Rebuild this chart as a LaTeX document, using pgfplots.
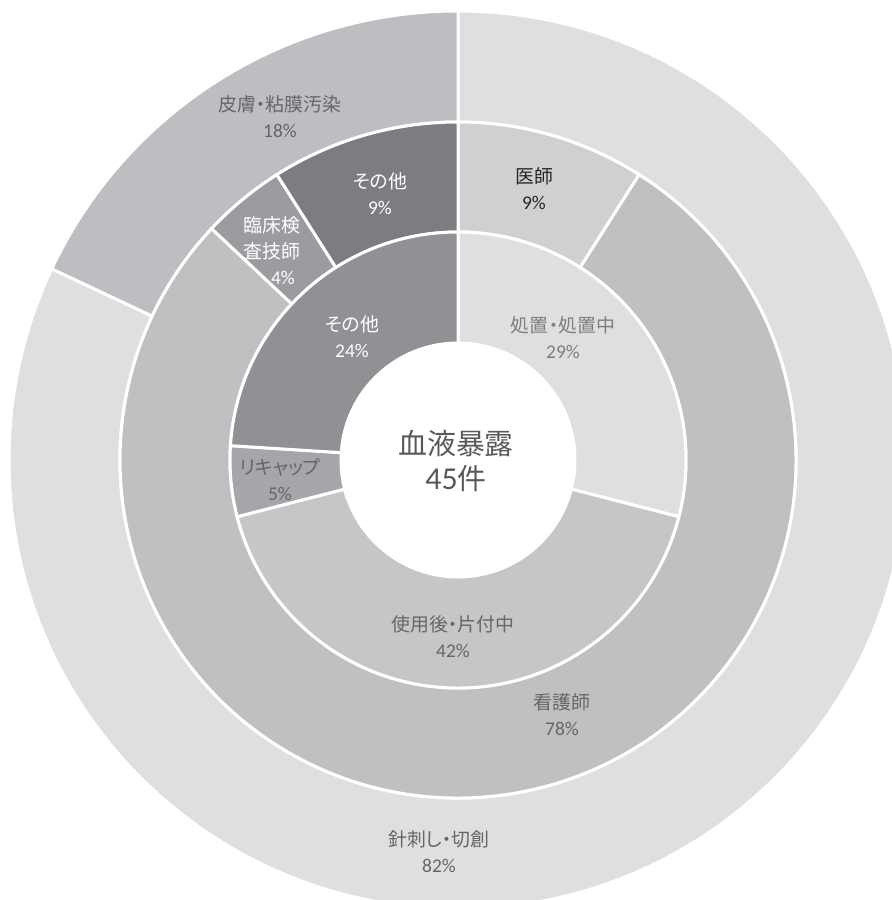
\documentclass[border=0pt]{standalone}
\usepackage{fontspec}
\setmainfont{Carlito}
\newfontfamily\jp[RawFeature=+palt]{Noto Sans CJK JP}
\usepackage{pgfplots}
\usepackage{pgfplotstable}
\pgfplotsset{compat=1.18}

% ring fills
\definecolor{cOutA}{HTML}{DEDFE1}
\definecolor{cOutB}{HTML}{BDBEC1}
\definecolor{cMidA}{HTML}{CFD0D2}
\definecolor{cMidB}{HTML}{BFC0C2}
\definecolor{cMidC}{HTML}{9C9CA0}
\definecolor{cMidD}{HTML}{7C7D81}
\definecolor{cInA}{HTML}{DEDFE1}
\definecolor{cInB}{HTML}{C5C6C8}
\definecolor{cInC}{HTML}{A5A6A9}
\definecolor{cInD}{HTML}{909195}
% label colours
\definecolor{tGray}{HTML}{666668}
\definecolor{tLight}{HTML}{7E7E80}
\definecolor{tDark}{HTML}{262626}
\definecolor{tCenter}{HTML}{595959}

% share in %, label position relative to centre (bp), shift of the % line,
% fill, text colour, name
\pgfplotstableread{
value lx ly ps fill tc label
29 105 122.5 0 cInA tLight {処置・処置中}
42 -5 -176.5 0 cInB tGray {使用後・片付中}
5 -178 -19.5 0 cInC tGray {リキャップ}
24 -106 123 0 cInD white {その他}
}\tblInner

\pgfplotstableread{
value lx ly ps fill tc label
9 76 271.5 0 cMidA tDark {医師}
78 104 -254.5 0 cMidB tGray {看護師}
4 -186 209.5 22 cMidC white {臨床検\\査技師}
9 -78 266.5 0 cMidD white {その他}
}\tblMid

\pgfplotstableread{
value lx ly ps fill tc label
82 -19 -391.5 0 cOutA tGray {針刺し・切創}
18 -178 343 0 cOutB tGray {皮膚・粘膜汚染}
}\tblOuter

% #1 table, #2 inner radius, #3 outer radius
\newcommand{\ring}[3]{%
  \pgfplotstablegetrowsof{#1}%
  \pgfmathtruncatemacro{\last}{\pgfplotsretval-1}%
  \xdef\angA{90}%
  \foreach \k in {0,...,\last}{%
    \pgfplotstablegetelem{\k}{value}\of{#1}\let\v\pgfplotsretval
    \pgfplotstablegetelem{\k}{fill}\of{#1}\let\fc\pgfplotsretval
    \pgfmathsetmacro{\angB}{\angA-3.6*\v}%
    \pgfmathsetmacro{\xa}{#2*cos(\angA)}\pgfmathsetmacro{\ya}{#2*sin(\angA)}%
    \pgfmathsetmacro{\xb}{#3*cos(\angA)}\pgfmathsetmacro{\yb}{#3*sin(\angA)}%
    \pgfmathsetmacro{\xc}{#2*cos(\angB)}\pgfmathsetmacro{\yc}{#2*sin(\angB)}%
    \filldraw[fill=\fc, draw=white, line width=3bp]
      (axis cs:\xa,\ya) -- (axis cs:\xb,\yb)
      arc[start angle=\angA, end angle=\angB, radius=#3bp]
      -- (axis cs:\xc,\yc)
      arc[start angle=\angB, end angle=\angA, radius=#2bp] -- cycle;
    \xdef\angA{\angB}%
  }%
}
\newcommand{\ringlabels}[1]{%
  \pgfplotstablegetrowsof{#1}%
  \pgfmathtruncatemacro{\last}{\pgfplotsretval-1}%
  \foreach \k in {0,...,\last}{%
    \pgfplotstablegetelem{\k}{value}\of{#1}\let\v\pgfplotsretval
    \pgfplotstablegetelem{\k}{lx}\of{#1}\let\lx\pgfplotsretval
    \pgfplotstablegetelem{\k}{ly}\of{#1}\let\ly\pgfplotsretval
    \pgfplotstablegetelem{\k}{ps}\of{#1}\let\ps\pgfplotsretval
    \pgfplotstablegetelem{\k}{tc}\of{#1}\let\tc\pgfplotsretval
    \pgfplotstablegetelem{\k}{label}\of{#1}\let\lab\pgfplotsretval
    \node[text=\tc, align=center, inner sep=0pt,
          font=\jp\fontsize{19}{26}\selectfont]
      at (axis cs:\lx,\ly)
      {\lab\\{\rmfamily\fontsize{19.5}{26}\selectfont\hspace*{\ps bp}\v\%}};
  }%
}

\begin{document}
\begin{tikzpicture}
\useasboundingbox (0,0) rectangle (892bp,900bp);
\begin{axis}[
    at={(0,0)}, anchor=south west,
    scale only axis,
    width=892bp, height=900bp,
    xmin=-458, xmax=434,
    ymin=-440, ymax=460,
    hide axis,
    clip=true,
]
\pgfplotsextra{%
  \ring{\tblOuter}{338}{449}%
  \ring{\tblMid}{228}{338}%
  \ring{\tblInner}{117}{228}%
  \ringlabels{\tblOuter}%
  \ringlabels{\tblMid}%
  \ringlabels{\tblInner}%
  \node[text=tCenter, align=center, inner sep=0pt,
        font=\jp\fontsize{29}{36}\selectfont]
    at (axis cs:-2,-1) {血液暴露\\{\rmfamily\fontsize{32}{36}\selectfont 45}件};
}
\end{axis}
\end{tikzpicture}
\end{document}
